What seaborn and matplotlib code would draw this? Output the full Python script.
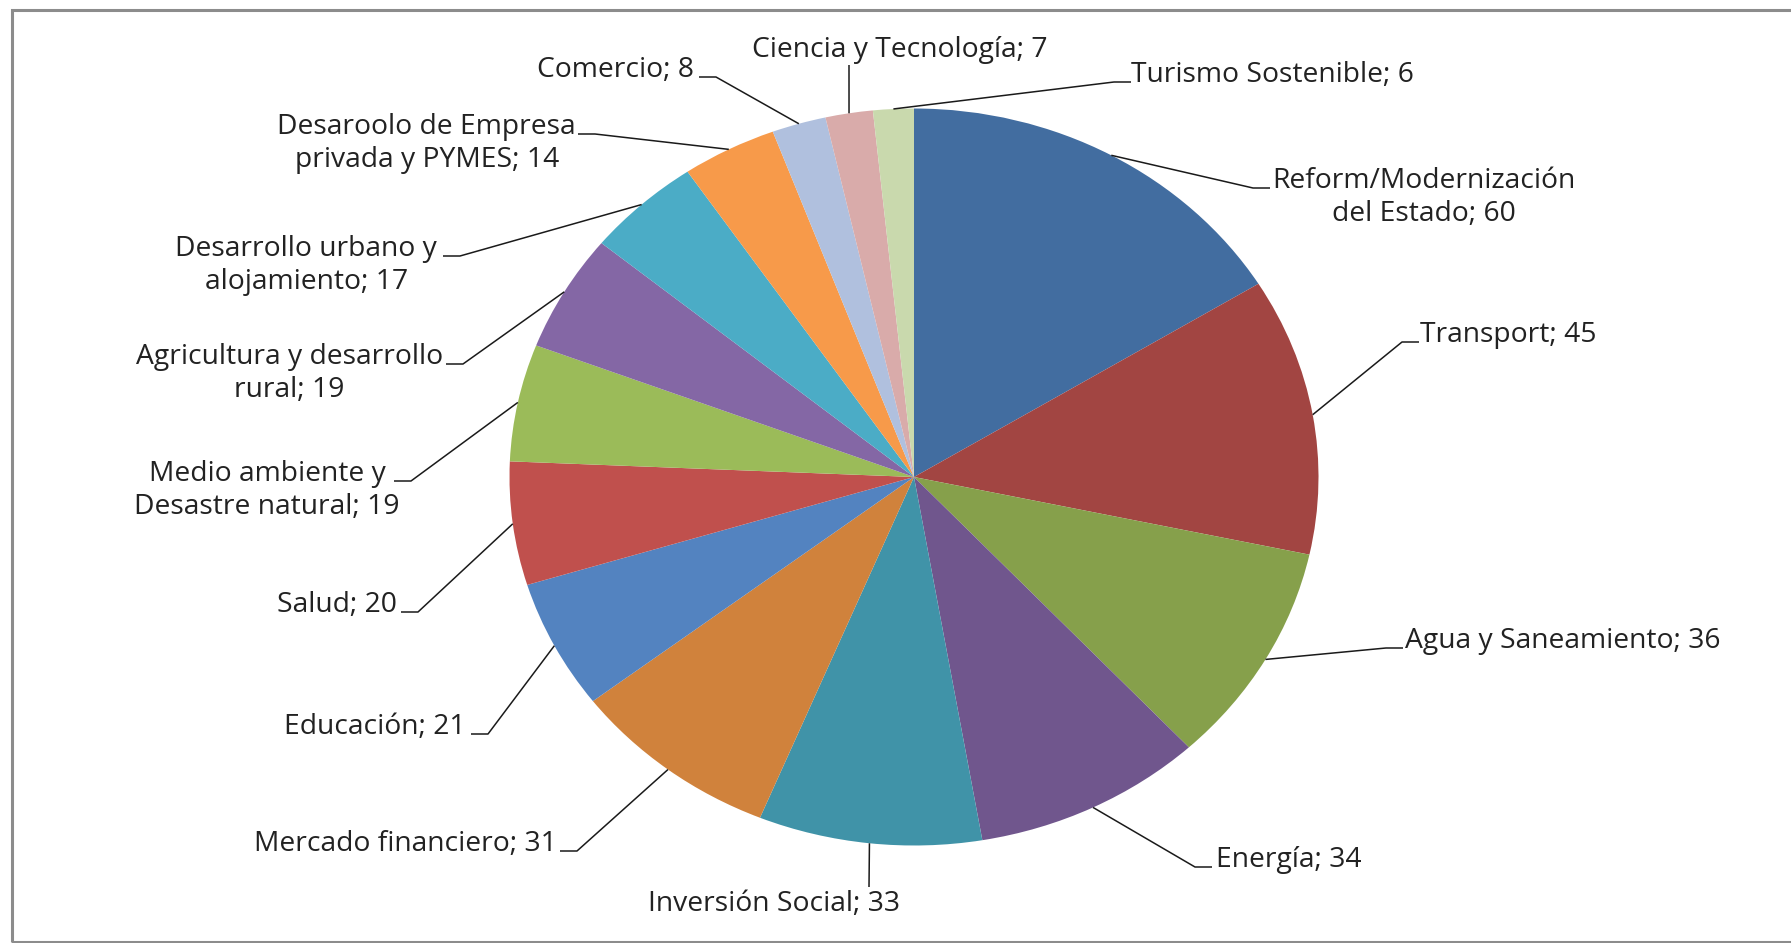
import matplotlib
matplotlib.use("Agg")
import matplotlib.pyplot as plt
import matplotlib.patches as mpatches
import numpy as np
import seaborn as sns

# slice data, clockwise from 12 o'clock
categories = [
    "Reform/Modernización\ndel Estado",
    "Transport",
    "Agua y Saneamiento",
    "Energía",
    "Inversión Social",
    "Mercado financiero",
    "Educación",
    "Salud",
    "Medio ambiente y\nDesastre natural",
    "Agricultura y desarrollo\nrural",
    "Desarrollo urbano y\nalojamiento",
    "Desaroolo de Empresa\nprivada y PYMES",
    "Comercio",
    "Ciencia y Tecnología",
    "Turismo Sostenible",
]
values = [60, 45, 36, 34, 33, 31, 21, 20, 19, 19, 17, 14, 8, 7, 6]
colors = [
    "#426DA0", "#A24542", "#86A04B", "#70568D", "#4093A8", "#D0823C",
    "#5383C0", "#C0504D", "#9BBB59", "#8467A5", "#4BACC6", "#F79A4A",
    "#B0C0DE", "#D9ABAA", "#C9D9AD",
]

W, H = 1791, 943
CX, CY = 914, 477      # pie centre in pixels (from top-left)
RX, RY = 404.5, 368.5  # the source picture is stretched horizontally
LINE_PITCH = 33        # px between label lines

# label placement: side, leader elbow (px), text x (px)
label_layout = [
    ("right", 1253, 188, 1272),
    ("right", 1402, 342, 1420),
    ("right", 1386, 648, 1405),
    ("right", 1195, 867, 1216),
    ("below", 869, 887, 774),
    ("left", 577, 851, 557),
    ("left", 488, 734, 466),
    ("left", 418, 612, 397),
    ("left", 411, 481, 400),
    ("left", 463, 364, 443),
    ("left", 460, 256, 437),
    ("left", 595, 134, 576),
    ("left", 716, 77, 694),
    ("above", 849, 65, 900),
    ("right", 1114, 82, 1131),
]


def px_to_data(x, y):
    return (x - CX) / RX, (CY - y) / RY


sns.set_theme(style="white")
plt.rcParams["font.family"] = ["Open Sans", "DejaVu Sans"]

fig = plt.figure(figsize=(W / 100, H / 100), dpi=100)
ax = fig.add_axes([0, 0, 1, 1])
wedges, _ = ax.pie(
    values,
    colors=sns.color_palette(colors),
    startangle=90,
    counterclock=False,
    wedgeprops=dict(linewidth=0),
)
ax.set_aspect("auto")
ax.set_xlim(-CX / RX, (W - CX) / RX)
ax.set_ylim(-(H - CY) / RY, CY / RY)
ax.axis("off")

text_kw = dict(fontsize=20.3, color="#222222", linespacing=1.25, multialignment="center")
line_kw = dict(color="#1a1a1a", lw=1.1, solid_capstyle="butt")

for wedge, name, val, (side, ex, ey, tx) in zip(wedges, categories, values, label_layout):
    mid = np.deg2rad((wedge.theta1 + wedge.theta2) / 2)
    sx, sy = np.cos(mid), np.sin(mid)
    label = f"{name}; {val}"
    extra_lines = label.count("\n")
    exd, eyd = px_to_data(ex, ey)
    if side in ("left", "right"):
        step = 17 if side == "right" else -17
        hx, _ = px_to_data(ex + step, ey)
        ax.plot([sx, exd, hx], [sy, eyd, eyd], **line_kw)
        # baseline of a multi-line text is its last line: push it down
        txd, tyd = px_to_data(tx, ey + extra_lines * LINE_PITCH)
        ax.text(txd, tyd, label, ha="left" if side == "right" else "right",
                va="baseline", **text_kw)
    else:
        ax.plot([sx, exd], [sy, eyd], **line_kw)
        if side == "below":
            txd, tyd = px_to_data(tx, ey + 3)
            ax.text(txd, tyd, label, ha="center", va="top", **text_kw)
        else:
            txd, tyd = px_to_data(tx, ey - 1)
            ax.text(txd, tyd, label, ha="center", va="bottom", **text_kw)

# chart frame (right side runs off the image)
frame = mpatches.Rectangle(
    (11.5 / W, 1.5 / H), (W + 20) / W, (H - 11) / H,
    transform=fig.transFigure, fill=False, edgecolor="#8c8c8c", lw=2.2,
)
fig.add_artist(frame)

fig.savefig("out.png", dpi=100, facecolor="white")
